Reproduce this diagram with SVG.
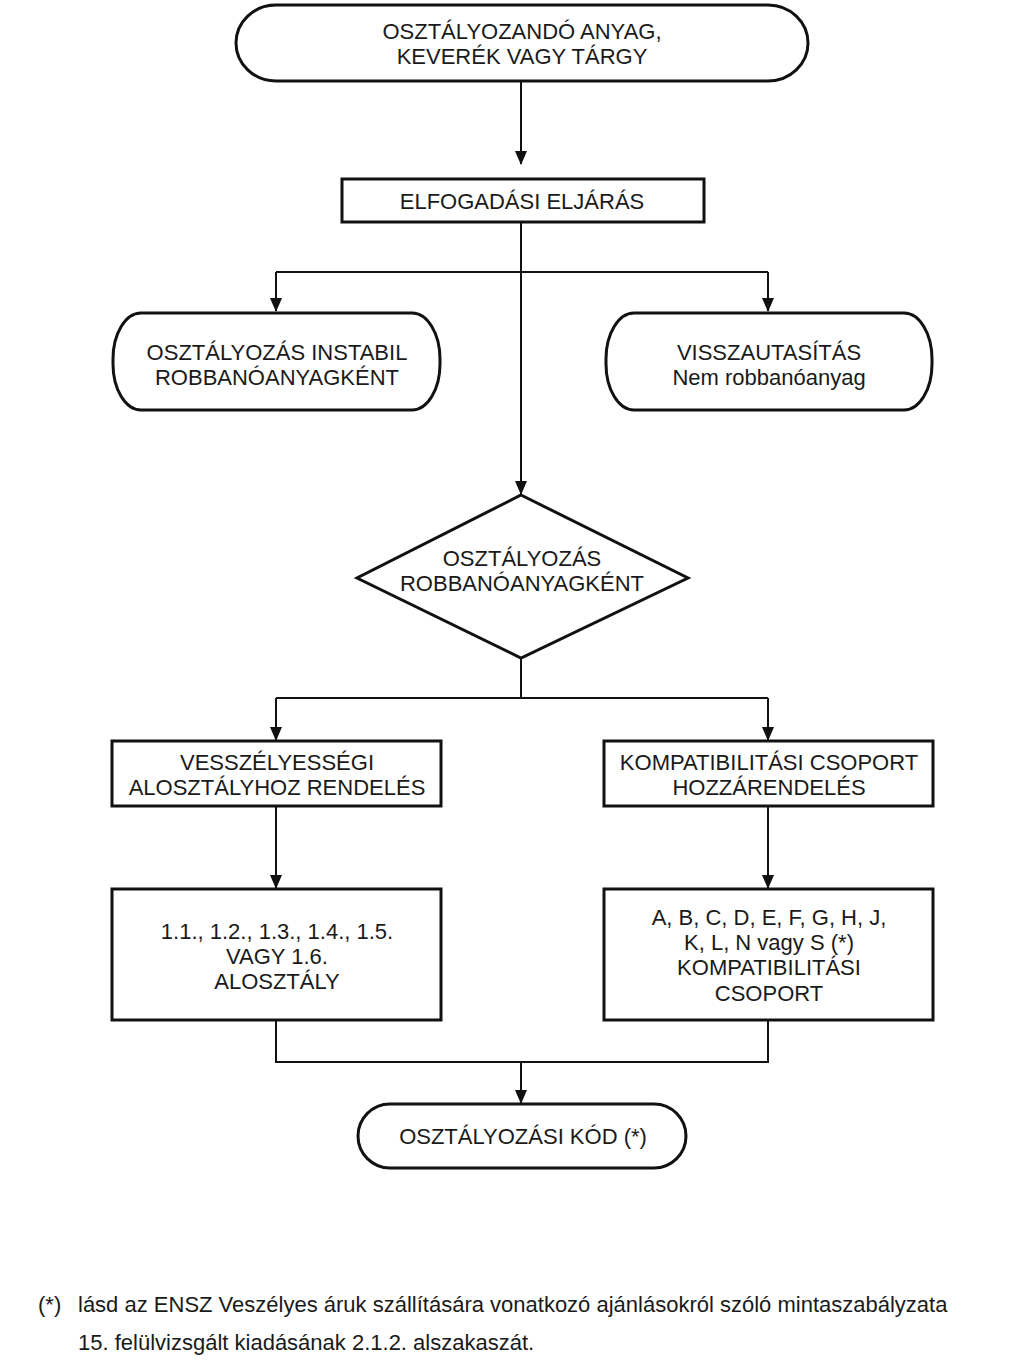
<svg xmlns="http://www.w3.org/2000/svg" width="1023" height="1364" viewBox="0 0 1023 1364">
<style>
.n{fill:#fff;stroke:#111;stroke-width:3}
.c{fill:none;stroke:#111;stroke-width:2}
text{font-family:"Liberation Sans",Arial,sans-serif;font-size:22px;fill:#1a1a1a;text-anchor:middle}
.f{text-anchor:start}
</style>
<defs>
<marker id="a" markerWidth="14" markerHeight="16" refX="13" refY="7" orient="auto" markerUnits="userSpaceOnUse">
<path d="M0,1 L14,7 L0,13 Z" fill="#111"/>
</marker>
</defs>
<rect width="1023" height="1364" fill="#fff"/>
<g id="connectors">
<path class="c" d="M521,81 V164" marker-end="url(#a)"/>
<path class="c" d="M521,222 V494" marker-end="url(#a)"/>
<path class="c" d="M276,272 H768"/>
<path class="c" d="M276,272 V311" marker-end="url(#a)"/>
<path class="c" d="M768,272 V311" marker-end="url(#a)"/>
<path class="c" d="M521,658 V698 M276,698 H768"/>
<path class="c" d="M276,698 V740" marker-end="url(#a)"/>
<path class="c" d="M768,698 V740" marker-end="url(#a)"/>
<path class="c" d="M276,806 V888" marker-end="url(#a)"/>
<path class="c" d="M768,806 V888" marker-end="url(#a)"/>
<path class="c" d="M276,1020 V1062 H768 V1020"/>
<path class="c" d="M521,1062 V1103" marker-end="url(#a)"/>
</g>
<g id="start">
<rect class="n" x="236" y="5" width="572" height="76" rx="40" ry="38"/>
<text x="522" y="39">OSZTÁLYOZANDÓ ANYAG,</text>
<text x="522" y="64">KEVERÉK VAGY TÁRGY</text>
</g>
<g id="elfogadas">
<rect class="n" x="342" y="179" width="362" height="43"/>
<text x="522" y="209">ELFOGADÁSI ELJÁRÁS</text>
</g>
<g id="instabil">
<rect class="n" x="113" y="313" width="327" height="97" rx="28" ry="46"/>
<text x="277" y="360">OSZTÁLYOZÁS INSTABIL</text>
<text x="277" y="385">ROBBANÓANYAGKÉNT</text>
</g>
<g id="visszautasitas">
<rect class="n" x="606" y="313" width="326" height="97" rx="28" ry="46"/>
<text x="769" y="360">VISSZAUTASÍTÁS</text>
<text x="769" y="385">Nem robbanóanyag</text>
</g>
<g id="decision">
<polygon class="n" points="521,495 688,578 521,658 357,578"/>
<text x="522" y="566">OSZTÁLYOZÁS</text>
<text x="522" y="591">ROBBANÓANYAGKÉNT</text>
</g>
<g id="alosztaly-rendeles">
<rect class="n" x="112" y="741" width="329" height="65"/>
<text x="277" y="770">VESSZÉLYESSÉGI</text>
<text x="277" y="795">ALOSZTÁLYHOZ RENDELÉS</text>
</g>
<g id="kompat-rendeles">
<rect class="n" x="604" y="741" width="329" height="65"/>
<text x="769" y="770">KOMPATIBILITÁSI CSOPORT</text>
<text x="769" y="795">HOZZÁRENDELÉS</text>
</g>
<g id="alosztaly">
<rect class="n" x="112" y="889" width="329" height="131"/>
<text x="277" y="939">1.1., 1.2., 1.3., 1.4., 1.5.</text>
<text x="277" y="964">VAGY 1.6.</text>
<text x="277" y="989">ALOSZTÁLY</text>
</g>
<g id="csoport">
<rect class="n" x="604" y="889" width="329" height="131"/>
<text x="769" y="925">A, B, C, D, E, F, G, H, J,</text>
<text x="769" y="950">K, L, N vagy S (*)</text>
<text x="769" y="975">KOMPATIBILITÁSI</text>
<text x="769" y="1001">CSOPORT</text>
</g>
<g id="kod">
<rect class="n" x="358" y="1104" width="328" height="64" rx="32" ry="32"/>
<text x="523" y="1144">OSZTÁLYOZÁSI KÓD (*)</text>
</g>
<g id="footnote">
<text class="f" x="38" y="1312">(*)</text>
<text class="f" x="78" y="1312">lásd az ENSZ Veszélyes áruk szállítására vonatkozó ajánlásokról szóló mintaszabályzata</text>
<text class="f" x="78" y="1350">15. felülvizsgált kiadásának 2.1.2. alszakaszát.</text>
</g>
</svg>
